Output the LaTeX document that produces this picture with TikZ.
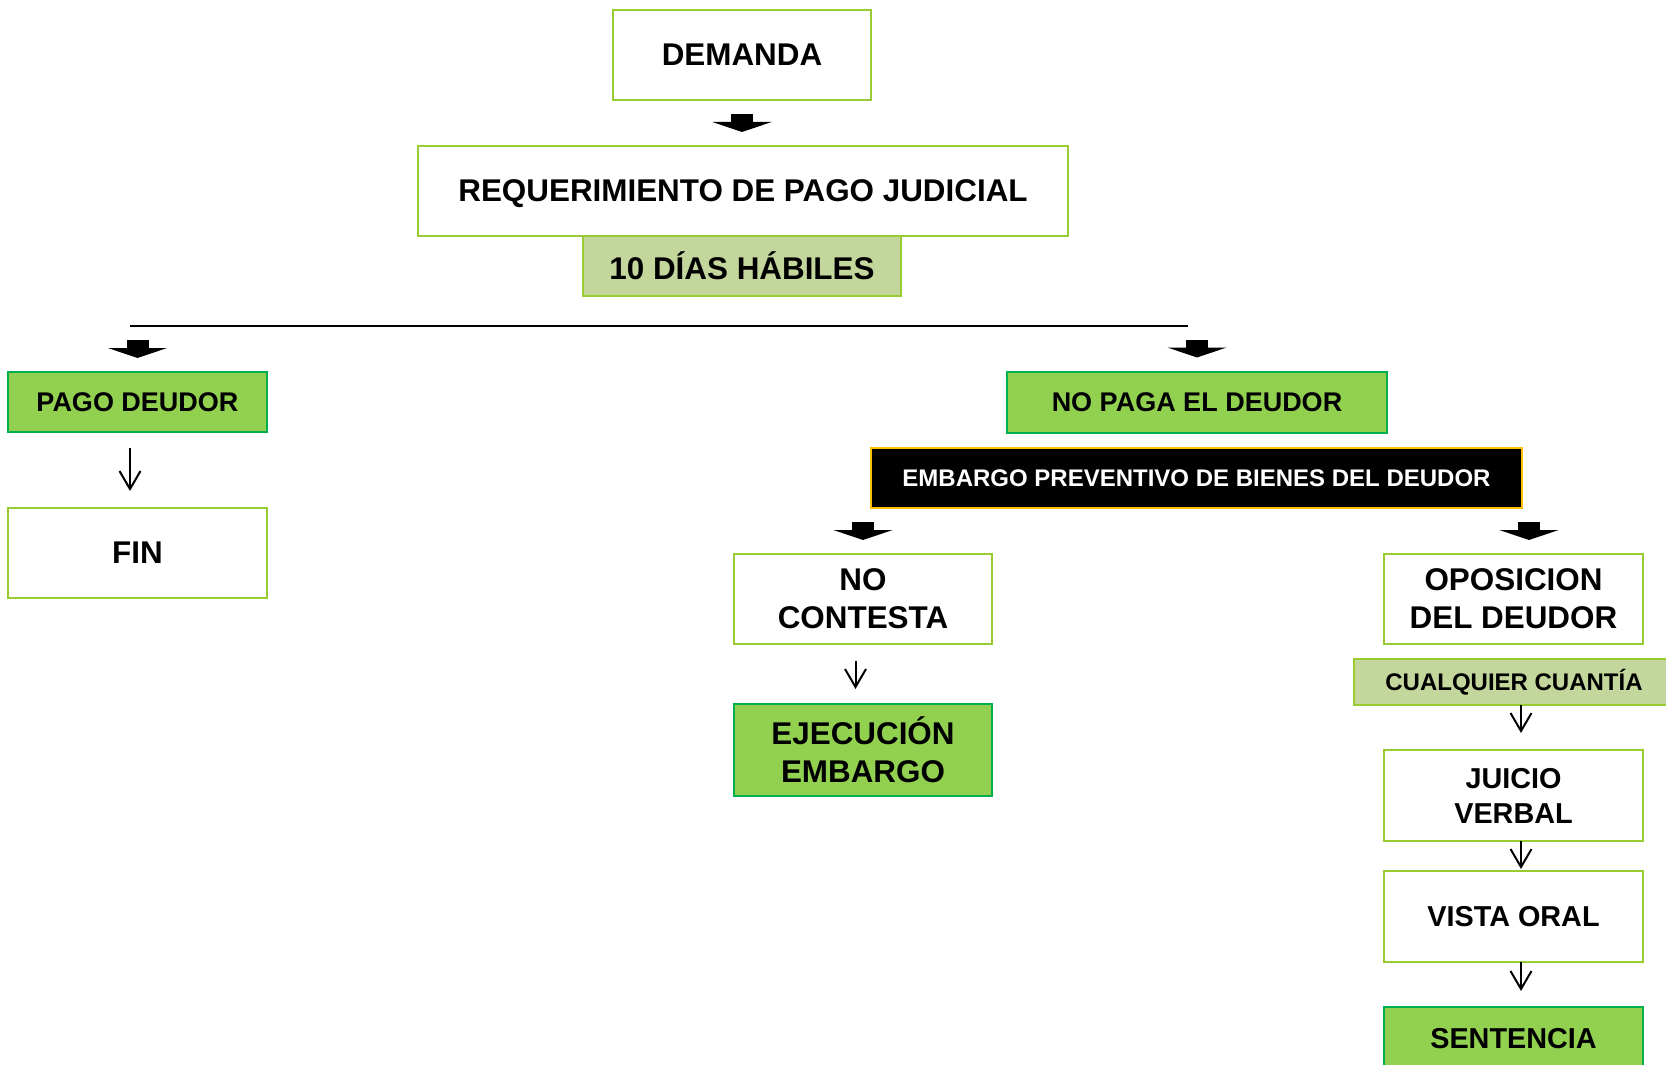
\documentclass[tikz,border=0pt]{standalone}
\usepackage{fontspec}
\setmainfont{Liberation Sans}
\usetikzlibrary{arrows.meta}
\definecolor{boxline}{RGB}{153,204,51}
\definecolor{leafgreen}{RGB}{146,208,80}
\definecolor{leafline}{RGB}{0,176,80}
\definecolor{notefill}{RGB}{195,214,155}
\definecolor{goldline}{RGB}{255,192,0}
\begin{document}
\begin{tikzpicture}[x=0.5pt, y=-0.5pt]
\tikzstyle{box_style} = [rectangle, draw=boxline, line width=1pt, fill=white, inner sep=0pt, outer sep=0pt, align=center, minimum width=129pt, minimum height=45pt]
\tikzstyle{leaf_style} = [box_style, draw=leafline, fill=leafgreen]
\tikzstyle{note_style} = [box_style, fill=notefill]
\tikzstyle{dark_style} = [box_style, draw=goldline, fill=black, text=white]
\tikzstyle{big_text} = [font={\fontsize{15.7}{19}\selectfont\bfseries}]
\tikzstyle{low_text} = [font={\fontsize{14.4}{17.5}\selectfont\bfseries}]
\tikzstyle{mid_text} = [font={\fontsize{13.5}{16}\selectfont\bfseries}]
\tikzstyle{small_text} = [font={\fontsize{12}{14.5}\selectfont\bfseries}]
\tikzstyle{block_arrow} = [line width=11pt, -{Triangle[width=29.5pt,length=5pt]}, shorten <=7pt, shorten >=7pt]
\tikzstyle{thin_arrow} = [line width=1pt, -{Straight Barb[width=10.5pt,length=9pt]}]
    \useasboundingbox (0,0) rectangle (1666,1065);

    \node[box_style, big_text] (demanda) at (742,55) {DEMANDA};
    \node[box_style, big_text, minimum width=325pt, text depth=0pt] (requerimiento) at (743,191) {REQUERIMIENTO DE PAGO JUDICIAL};
    \node[note_style, big_text, minimum width=159pt, minimum height=30pt] (dias) at (742,266) {10 DÍAS HÁBILES};

    \draw[block_arrow] (demanda.south) -- (demanda.south |- requerimiento.north);

    \coordinate (split_l) at (130,326);
    \coordinate (split_r) at (1188,326);
    \draw[line width=1pt] (split_l) -- (split_r);

    \node[leaf_style, mid_text, minimum width=129.5pt, minimum height=30pt] (pago) at (137.5,402) {PAGO DEUDOR};
    \node[box_style, big_text, minimum width=129.5pt] (fin) at (137.5,553) {FIN};
    \node[leaf_style, mid_text, minimum width=190pt, minimum height=30.5pt] (nopaga) at (1197,402) {NO PAGA EL DEUDOR};
    \node[dark_style, small_text, minimum width=325.5pt, minimum height=30pt] (embargo) at (1196.5,478) {EMBARGO PREVENTIVO DE BIENES DEL DEUDOR};

    \draw[block_arrow] (pago.north |- split_l) -- (pago.north);
    \draw[block_arrow] (nopaga.north |- split_r) -- (nopaga.north);

    \coordinate (pago_out) at ([xshift=-3.75pt]pago.south);
    \draw[thin_arrow, shorten <=8pt, shorten >=8.5pt] (pago_out) -- (pago_out |- fin.north);

    \node[box_style, big_text] (nocontesta) at (863,599) {NO\\CONTESTA};
    \node[leaf_style, big_text, minimum height=46pt] (ejecucion) at (863,750) {EJECUCIÓN\\EMBARGO};

    \draw[block_arrow] (nocontesta.north |- embargo.south) -- (nocontesta.north);
    \coordinate (nocontesta_out) at ([xshift=-3.75pt]nocontesta.south);
    \draw[thin_arrow, shorten <=8.5pt, shorten >=7.5pt] (nocontesta_out) -- (nocontesta_out |- ejecucion.north);

    \node[box_style, big_text, minimum width=129.5pt] (oposicion) at (1513.5,599) {OPOSICION\\DEL DEUDOR};
    \node[note_style, small_text, minimum width=160pt, minimum height=23pt] (cualquier) at (1514,682) {CUALQUIER CUANTÍA};
    \node[box_style, low_text, minimum width=129.5pt, minimum height=45.5pt] (juicio) at (1513.5,795.5) {JUICIO\\VERBAL};
    \node[box_style, low_text, minimum width=129.5pt, minimum height=45.5pt] (vista) at (1513.5,916.5) {VISTA ORAL};
    \node[leaf_style, low_text, minimum width=129.5pt, minimum height=32pt] (sentencia) at (1513.5,1039) {SENTENCIA};

    \coordinate (opos_in) at ([xshift=7.75pt]oposicion.north);
    \draw[block_arrow] (opos_in |- embargo.south) -- (opos_in);

    \coordinate (right_col) at ([xshift=3.75pt]oposicion.south);
    \draw[thin_arrow, shorten >=8.5pt] (cualquier.south -| right_col) -- (juicio.north -| right_col);
    \draw[thin_arrow, shorten >=1pt] (juicio.south -| right_col) -- (vista.north -| right_col);
    \draw[thin_arrow, shorten >=8pt] (vista.south -| right_col) -- (sentencia.north -| right_col);
\end{tikzpicture}
\end{document}
